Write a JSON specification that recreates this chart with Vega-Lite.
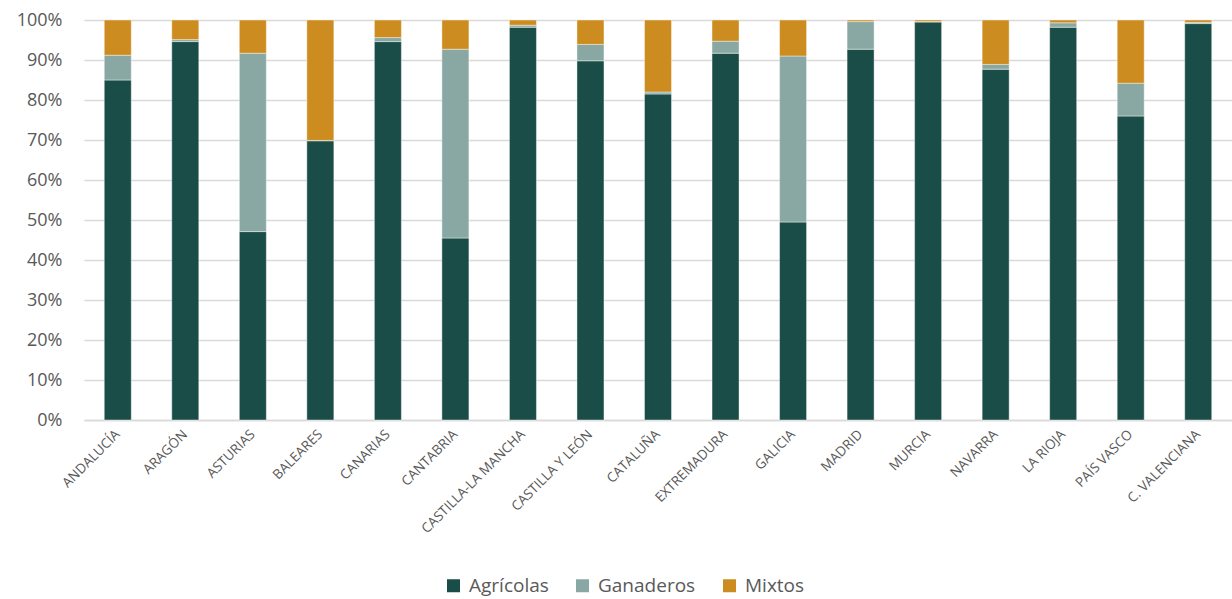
{
  "$schema": "https://vega.github.io/schema/vega-lite/v6.json",
  "width": 1148,
  "height": 400,
  "autosize": {"type": "none"},
  "padding": {"left": 84, "top": 20, "right": 0, "bottom": 179},
  "background": "white",
  "config": {
    "view": {"stroke": null},
    "font": "Open Sans"
  },
  "data": {
    "values": [
      {"region": "ANDALUCÍA", "tipo": "Agrícolas", "valor": 85.0},
      {"region": "ANDALUCÍA", "tipo": "Ganaderos", "valor": 6.2},
      {"region": "ANDALUCÍA", "tipo": "Mixtos", "valor": 8.8},
      {"region": "ARAGÓN", "tipo": "Agrícolas", "valor": 94.6},
      {"region": "ARAGÓN", "tipo": "Ganaderos", "valor": 0.5},
      {"region": "ARAGÓN", "tipo": "Mixtos", "valor": 4.9},
      {"region": "ASTURIAS", "tipo": "Agrícolas", "valor": 47.1},
      {"region": "ASTURIAS", "tipo": "Ganaderos", "valor": 44.6},
      {"region": "ASTURIAS", "tipo": "Mixtos", "valor": 8.3},
      {"region": "BALEARES", "tipo": "Agrícolas", "valor": 69.8},
      {"region": "BALEARES", "tipo": "Ganaderos", "valor": 0.1},
      {"region": "BALEARES", "tipo": "Mixtos", "valor": 30.1},
      {"region": "CANARIAS", "tipo": "Agrícolas", "valor": 94.6},
      {"region": "CANARIAS", "tipo": "Ganaderos", "valor": 1.0},
      {"region": "CANARIAS", "tipo": "Mixtos", "valor": 4.4},
      {"region": "CANTABRIA", "tipo": "Agrícolas", "valor": 45.5},
      {"region": "CANTABRIA", "tipo": "Ganaderos", "valor": 47.2},
      {"region": "CANTABRIA", "tipo": "Mixtos", "valor": 7.3},
      {"region": "CASTILLA-LA MANCHA", "tipo": "Agrícolas", "valor": 98.2},
      {"region": "CASTILLA-LA MANCHA", "tipo": "Ganaderos", "valor": 0.5},
      {"region": "CASTILLA-LA MANCHA", "tipo": "Mixtos", "valor": 1.3},
      {"region": "CASTILLA Y LEÓN", "tipo": "Agrícolas", "valor": 89.8},
      {"region": "CASTILLA Y LEÓN", "tipo": "Ganaderos", "valor": 4.1},
      {"region": "CASTILLA Y LEÓN", "tipo": "Mixtos", "valor": 6.1},
      {"region": "CATALUÑA", "tipo": "Agrícolas", "valor": 81.5},
      {"region": "CATALUÑA", "tipo": "Ganaderos", "valor": 0.5},
      {"region": "CATALUÑA", "tipo": "Mixtos", "valor": 18.0},
      {"region": "EXTREMADURA", "tipo": "Agrícolas", "valor": 91.7},
      {"region": "EXTREMADURA", "tipo": "Ganaderos", "valor": 3.0},
      {"region": "EXTREMADURA", "tipo": "Mixtos", "valor": 5.3},
      {"region": "GALICIA", "tipo": "Agrícolas", "valor": 49.5},
      {"region": "GALICIA", "tipo": "Ganaderos", "valor": 41.5},
      {"region": "GALICIA", "tipo": "Mixtos", "valor": 9.0},
      {"region": "MADRID", "tipo": "Agrícolas", "valor": 92.7},
      {"region": "MADRID", "tipo": "Ganaderos", "valor": 6.9},
      {"region": "MADRID", "tipo": "Mixtos", "valor": 0.4},
      {"region": "MURCIA", "tipo": "Agrícolas", "valor": 99.5},
      {"region": "MURCIA", "tipo": "Ganaderos", "valor": 0.1},
      {"region": "MURCIA", "tipo": "Mixtos", "valor": 0.4},
      {"region": "NAVARRA", "tipo": "Agrícolas", "valor": 87.7},
      {"region": "NAVARRA", "tipo": "Ganaderos", "valor": 1.2},
      {"region": "NAVARRA", "tipo": "Mixtos", "valor": 11.1},
      {"region": "LA RIOJA", "tipo": "Agrícolas", "valor": 98.2},
      {"region": "LA RIOJA", "tipo": "Ganaderos", "valor": 1.1},
      {"region": "LA RIOJA", "tipo": "Mixtos", "valor": 0.7},
      {"region": "PAÍS VASCO", "tipo": "Agrícolas", "valor": 76.0},
      {"region": "PAÍS VASCO", "tipo": "Ganaderos", "valor": 8.2},
      {"region": "PAÍS VASCO", "tipo": "Mixtos", "valor": 15.8},
      {"region": "C. VALENCIANA", "tipo": "Agrícolas", "valor": 99.1},
      {"region": "C. VALENCIANA", "tipo": "Ganaderos", "valor": 0.3},
      {"region": "C. VALENCIANA", "tipo": "Mixtos", "valor": 0.6}
    ]
  },
  "mark": {"type": "bar", "stroke": "#ffffff", "strokeWidth": 0.6, "strokeOpacity": 0.7},
  "encoding": {
    "x": {
      "field": "region",
      "type": "nominal",
      "sort": null,
      "scale": {"paddingInner": 0.6, "paddingOuter": 0.3},
      "axis": {
        "title": null,
        "labelAngle": -45,
        "labelAlign": "right",
        "labelBaseline": "middle",
        "labelFontSize": 13.5,
        "labelColor": "#595959",
        "labelPadding": 12,
        "ticks": false,
        "domain": true,
        "domainColor": "#d9d9d9",
        "domainWidth": 1.5,
        "grid": false
      }
    },
    "y": {
      "field": "valor",
      "type": "quantitative",
      "stack": "normalize",
      "scale": {"domain": [0, 1], "nice": false},
      "axis": {
        "title": null,
        "values": [0, 0.1, 0.2, 0.3, 0.4, 0.5, 0.6, 0.7, 0.8, 0.9, 1],
        "format": ".0%",
        "labelFontSize": 18,
        "labelColor": "#595959",
        "labelPadding": 22,
        "ticks": false,
        "domain": false,
        "grid": true,
        "gridColor": "#d9d9d9",
        "gridWidth": 1.5
      }
    },
    "color": {
      "field": "tipo",
      "type": "nominal",
      "scale": {
        "domain": ["Agrícolas", "Ganaderos", "Mixtos"],
        "range": ["#1a4d47", "#8aa8a3", "#cc8c1f"]
      },
      "legend": {
        "title": null,
        "orient": "none",
        "direction": "horizontal",
        "legendX": 360,
        "legendY": 556,
        "symbolType": "square",
        "symbolSize": 169,
        "symbolStrokeWidth": 0,
        "labelFontSize": 19,
        "labelColor": "#595959",
        "labelOffset": 6,
        "columnPadding": 24
      }
    },
    "order": {"field": "tipo", "sort": "ascending"}
  }
}
